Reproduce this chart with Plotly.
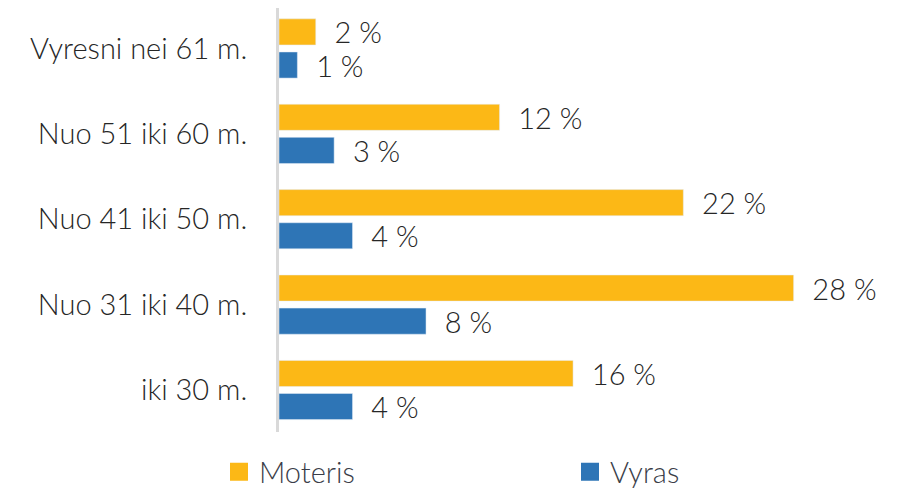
import plotly.graph_objects as go

categories = ["iki 30 m.", "Nuo 31 iki 40 m.", "Nuo 41 iki 50 m.", "Nuo 51 iki 60 m.", "Vyresni nei 61 m."]
moteris = [16, 28, 22, 12, 2]
vyras = [4, 8, 4, 3, 1]

ORANGE = "#FCB816"
BLUE = "#2E75B6"
TXT = "#262626"
FONT = "Lato"
FS = 29

def labels(vals):
    return ["\u00a0\u00a0" + f"{v}\u00a0%" for v in vals]

fig = go.Figure()
fig.add_trace(go.Bar(y=categories, x=vyras, orientation="h", name="Vyras",
                     marker_color=BLUE, text=labels(vyras), textposition="outside",
                     constraintext="none",
                     textfont=dict(size=FS, color=TXT, family=FONT, weight=300),
                     cliponaxis=False, showlegend=False))
fig.add_trace(go.Bar(y=categories, x=moteris, orientation="h", name="Moteris",
                     marker_color=ORANGE, text=labels(moteris), textposition="outside",
                     constraintext="none",
                     textfont=dict(size=FS, color=TXT, family=FONT, weight=300),
                     cliponaxis=False, showlegend=False))
# legend entries
fig.add_trace(go.Scatter(x=[None], y=[None], mode="markers", name="Moteris", legend="legend",
                         marker=dict(symbol="square", size=16, color=ORANGE,
                                     line=dict(width=2, color=ORANGE))))
fig.add_trace(go.Scatter(x=[None], y=[None], mode="markers", name="Vyras", legend="legend2",
                         marker=dict(symbol="square", size=16, color=BLUE,
                                     line=dict(width=2, color=BLUE))))

legend_common = dict(orientation="h", xref="container", yref="container",
                     xanchor="left", y=0.0353, yanchor="middle",
                     font=dict(size=FS, color="#3a3d48", family=FONT, weight=300),
                     itemsizing="trace", bgcolor="rgba(0,0,0,0)")

fig.update_layout(
    width=891, height=481,
    margin=dict(l=271, r=19, t=0, b=57, autoexpand=False),
    plot_bgcolor="white", paper_bgcolor="white",
    barmode="group", bargap=0.224, bargroupgap=0.212,
    font=dict(family=FONT, size=FS, color=TXT, weight=300),
    showlegend=True,
    legend=dict(x=0.2368, **legend_common),
    legend2=dict(x=562 / 891, **legend_common),
    xaxis=dict(range=[0, 32.7], showgrid=False, zeroline=False, showticklabels=False,
               showline=False, automargin=False),
    yaxis=dict(range=[-0.492, 4.474], showline=True, linecolor="#d9d9d9", linewidth=3,
               ticks="", automargin=False,
               ticklabelstandoff=23, tickfont=dict(size=FS, color=TXT, family=FONT, weight=300),
               showgrid=False),
)
fig.write_html("out.html")
